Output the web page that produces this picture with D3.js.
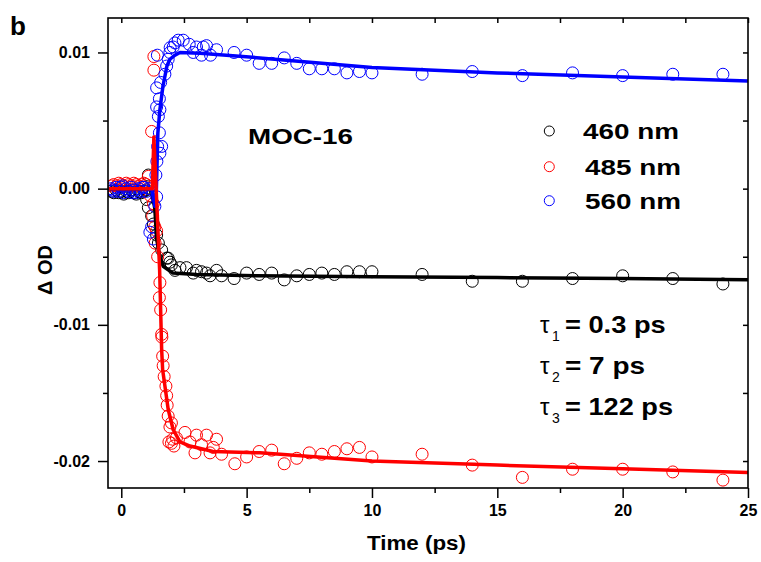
<!DOCTYPE html>
<html>
<head>
<meta charset="utf-8">
<script src="https://cdn.jsdelivr.net/npm/d3@7"></script>
<style>
  body { margin: 0; background: #fff; }
  svg { display: block; font-family: "Liberation Sans", Arial, sans-serif; }
</style>
</head>
<body>
<svg id="chart" width="761" height="562"></svg>
<script>
// Transient absorption kinetics, MOC-16 (panel b)
// points are [time (ps), delta OD]

const pts460 = [
  [-0.4,-0.0002],[-0.3,-0.0003],[-0.2,-0.0001],[-0.1,-0.0003],[0,-0.0002],[0.1,-0.0004],[0.2,-0.0002],
  [0.3,-0.0003],[0.4,-0.0001],[0.5,-0.0003],[0.6,-0.0004],[0.7,-0.0002],[0.8,-0.0003],[0.9,-0.0002],
  [1.0,-0.0001],[1.08,0.0010],[1.01,-0.0008],[1.08,-0.0014],[1.21,-0.0020],[1.28,-0.0026],[1.41,-0.0034],
  [1.48,-0.0040],[1.61,-0.0045],[1.81,-0.0051],[1.94,-0.0054],[1.87,-0.0051],[2.0,-0.0056],[2.14,-0.0060],
  [2.34,-0.0058],[2.6,-0.0058],[2.87,-0.0062],[3.0,-0.0060],[3.2,-0.0061],[3.4,-0.0062],[3.54,-0.0064],
  [3.8,-0.0060],[4.0,-0.0064],[4.5,-0.0066],[5.0,-0.0062],[5.5,-0.0063],[6.0,-0.0062],[6.5,-0.0067],
  [7.0,-0.0064],[7.5,-0.0063],[8.0,-0.0062],[8.5,-0.0063],[9.0,-0.0061],[9.5,-0.0061],[10,-0.0061],
  [12,-0.0063],[14,-0.0068],[16,-0.0068],[18,-0.0066],[20,-0.0064],[22,-0.0066],[24,-0.0070]
];
const pts485 = [
  [-0.4,0.0002],[-0.3,0.0003],[-0.2,0.0002],[-0.1,0.0004],[0,0.0003],[0.1,0.0002],[0.2,0.0004],
  [0.3,0.0003],[0.4,0.0002],[0.5,0.0004],[0.6,0.0003],[0.7,0.0002],[0.8,0.0003],[0.9,0.0004],
  [1.0,0.0003],[1.08,0.0009],[1.21,0.0042],[1.30,0.0087],[1.30,0.0097],[1.15,-0.0005],[1.25,-0.0020],
  [1.28,-0.0011],[1.34,-0.0028],[1.35,-0.0040],[1.41,-0.0031],[1.45,-0.0050],[1.54,-0.0069],[1.52,-0.0080],
  [1.57,-0.0089],[1.61,-0.0107],[1.62,-0.0109],[1.65,-0.0123],[1.67,-0.0130],[1.71,-0.0138],[1.78,-0.0145],
  [1.81,-0.0152],[1.83,-0.0159],[1.87,-0.0167],[1.94,-0.0175],[2.0,-0.0172],[2.05,-0.0184],[1.9,-0.0186],
  [2.0,-0.0187],[2.1,-0.0189],[2.2,-0.0183],[2.54,-0.0179],[2.74,-0.0186],[2.94,-0.0194],[3.0,-0.0181],
  [3.2,-0.0188],[3.4,-0.0181],[3.54,-0.0194],[3.67,-0.0190],[3.8,-0.0184],[4.0,-0.0195],[4.53,-0.0202],
  [5.0,-0.0197],[5.5,-0.0193],[6.0,-0.0192],[6.5,-0.0202],[7.0,-0.0198],[7.5,-0.0194],[8.0,-0.0195],
  [8.5,-0.0193],[9.0,-0.0191],[9.5,-0.0190],[10,-0.0197],[12,-0.0195],[14,-0.0203],[16,-0.0212],
  [18,-0.0206],[20,-0.0206],[22,-0.0208],[24,-0.0214]
];
const pts560 = [
  [-0.4,0.0000],[-0.35,-0.0001],[-0.3,-0.0002],[-0.2,0.0001],[-0.1,-0.0002],[0,0.0001],[0.05,0.0002],
  [0.1,-0.0003],[0.2,0.0000],[0.3,-0.0002],[0.4,0.0001],[0.45,-0.0003],[0.5,-0.0001],[0.6,-0.0003],
  [0.7,0.0000],[0.8,-0.0002],[0.85,0.0001],[0.9,0.0001],[1.0,-0.0002],[1.1,0.0000],
  [1.14,-0.0032],[1.21,-0.0028],[1.28,-0.0037],[1.34,-0.0013],[1.38,0.0010],[1.41,-0.0006],[1.42,0.0020],
  [1.45,0.0031],[1.52,0.0041],[1.54,0.0026],[1.61,0.0031],[1.48,0.0053],[1.54,0.0058],[1.41,0.0060],
  [1.52,0.0066],[1.41,0.0074],[1.57,0.0078],[1.74,0.0084],[1.81,0.0090],[1.87,0.0095],[1.44,0.0098],
  [1.94,0.0100],[1.95,0.01035],[2.07,0.0104],[2.14,0.0107],[2.27,0.0109],[2.47,0.0109],[2.71,0.0106],
  [2.87,0.0100],[3.0,0.0104],[3.2,0.0098],[3.27,0.0104],[3.4,0.0105],[3.56,0.0098],[3.8,0.0102],
  [4.5,0.0100],[5.0,0.0098],[5.5,0.0092],[6.0,0.0092],[6.5,0.0096],[7.0,0.0092],[7.5,0.0088],
  [8.0,0.0088],[8.5,0.0088],[9.0,0.0085],[9.5,0.0086],[10,0.0085],[12,0.0084],[14,0.0086],
  [16,0.0083],[18,0.0085],[20,0.0083],[22,0.0084],[24,0.0084]
];

// fitted curves
const fit460 = [
  [-0.5,0],[1.06,0],[1.22,-0.0002],[1.34,-0.0015],[1.41,-0.0037],[1.54,-0.0050],[1.67,-0.0057],
  [2.06,-0.0062],[3.0,-0.0063],[5.4,-0.0064],[10,-0.00646],[15,-0.00653],[20,-0.0066],[25,-0.00668]
];
const fit485 = [
  [-0.5,0],[1.14,0],[1.24,0],[1.30,0.0038],[1.41,-0.0008],[1.53,-0.0060],[1.61,-0.0118],[1.65,-0.0133],
  [1.87,-0.0162],[2.07,-0.0177],[2.34,-0.0186],[2.74,-0.0189],[3.66,-0.0193],[5.53,-0.0194],
  [10,-0.0200],[15,-0.0203],[20,-0.02056],[25,-0.02085]
];
const fit560 = [
  [-0.5,0],[1.06,0],[1.22,-0.0001],[1.34,-0.0013],[1.40,-0.0001],[1.46,0.0041],[1.54,0.0058],
  [1.66,0.0075],[1.82,0.0090],[1.94,0.0095],[2.14,0.0098],[2.34,0.0100],[3.14,0.00995],[5.53,0.0096],
  [10,0.0089],[15,0.0085],[20,0.0082],[25,0.0079]
];

const xTicks = [0, 5, 10, 15, 20, 25];
const xMinor = [2.5, 7.5, 12.5, 17.5, 22.5];
const yTicks = [-0.02, -0.01, 0, 0.01];
const yMinor = [-0.015, -0.005, 0.005];
const legendLabels = ["460 nm", "485 nm", "560 nm"];
const tauLabels = [["1", "= 0.3 ps"], ["2", "= 7 ps"], ["3", "= 122 ps"]];

const colors = { "460": "#000000", "485": "#ff0000", "560": "#0000ff" };

const mLeft = 108, mRight = 748, mTop = 18, mBottom = 488;
const x = d3.scaleLinear().domain([-0.53, 25]).range([mLeft, mRight]);
const y = d3.scaleLinear().domain([-0.02198, 0.01253]).range([mBottom, mTop]);

const svg = d3.select("#chart");

svg.append("defs").append("clipPath").attr("id", "clip")
  .append("rect").attr("x", mLeft).attr("y", mTop).attr("width", mRight - mLeft).attr("height", mBottom - mTop);

const plot = svg.append("g").attr("clip-path", "url(#clip)");

// data circles
const series = [["460", pts460], ["485", pts485], ["560", pts560]];
series.forEach(([k, pts]) => {
  plot.append("g")
      .selectAll("circle")
      .data(pts)
      .join("circle")
      .attr("cx", d => x(d[0]))
      .attr("cy", d => y(d[1]))
      .attr("r", 6)
      .attr("fill", "none")
      .attr("stroke", colors[k])
      .attr("stroke-width", 1);
});

// fit lines
const line = d3.line().x(d => x(d[0])).y(d => y(d[1]));
[["460", fit460], ["560", fit560], ["485", fit485]].forEach(([k, f]) => {
  plot.append("path")
      .datum(f)
      .attr("fill", "none")
      .attr("stroke", colors[k])
      .attr("stroke-width", 3.5)
      .attr("stroke-linejoin", "round")
      .attr("d", line);
});

// axes
const fmt = d => d.toFixed(2);
const tickFont = g => g.selectAll("text")
    .attr("font-size", 16).attr("font-weight", "bold").attr("fill", "#000");

svg.append("g").attr("transform", `translate(0,${mBottom})`)
    .call(d3.axisBottom(x).tickValues(xTicks).tickFormat(d3.format("d")).tickSize(10).tickPadding(7).tickSizeOuter(0))
    .call(tickFont);
svg.append("g").attr("transform", `translate(0,${mBottom})`)
    .call(d3.axisBottom(x).tickValues(xMinor).tickFormat("").tickSize(5).tickSizeOuter(0));
svg.append("g").attr("transform", `translate(${mLeft},0)`)
    .call(d3.axisLeft(y).tickValues(yTicks).tickFormat(fmt).tickSize(10).tickPadding(8).tickSizeOuter(0))
    .call(tickFont);
svg.append("g").attr("transform", `translate(${mLeft},0)`)
    .call(d3.axisLeft(y).tickValues(yMinor).tickFormat("").tickSize(5).tickSizeOuter(0));
// mirror ticks top / right, pointing in
svg.append("g").attr("transform", `translate(0,${mTop})`)
    .call(d3.axisTop(x).tickValues(xTicks.concat(xMinor)).tickFormat("").tickSize(-5).tickSizeOuter(0));
svg.append("g").attr("transform", `translate(${mRight},0)`)
    .call(d3.axisRight(y).tickValues(yTicks.concat(yMinor)).tickFormat("").tickSize(-5).tickSizeOuter(0));
svg.selectAll(".domain").remove();
svg.selectAll(".tick line").attr("stroke", "#000").attr("stroke-width", 1.5);

svg.append("rect")
    .attr("x", mLeft).attr("y", mTop)
    .attr("width", mRight - mLeft).attr("height", mBottom - mTop)
    .attr("fill", "none").attr("stroke", "#000").attr("stroke-width", 1.6);

// titles
svg.append("text").attr("x", 10).attr("y", 35)
    .attr("font-size", 26).attr("font-weight", "bold").text("b");
svg.append("text").attr("x", 367).attr("y", 550)
    .attr("font-size", 20).attr("font-weight", "bold")
    .attr("textLength", 99).attr("lengthAdjust", "spacingAndGlyphs")
    .text("Time (ps)");
svg.append("text")
    .attr("transform", "translate(52,270) rotate(-90)")
    .attr("text-anchor", "middle")
    .attr("font-size", 20).attr("font-weight", "bold")
    .text("Δ OD");

svg.append("text").attr("x", 248).attr("y", 144)
    .attr("font-size", 22).attr("font-weight", "bold")
    .attr("textLength", 105).attr("lengthAdjust", "spacingAndGlyphs")
    .text("MOC-16");

// legend
const legY = [131, 166.7, 200.7];
const legKeys = ["460", "485", "560"];
const leg = svg.append("g").selectAll("g").data(legendLabels).join("g");
leg.append("circle")
    .attr("cx", 549.3).attr("cy", (d, i) => legY[i]).attr("r", 5)
    .attr("fill", "none").attr("stroke", (d, i) => colors[legKeys[i]]).attr("stroke-width", 1);
leg.append("text")
    .attr("x", (d, i) => i === 0 ? 583 : 585).attr("y", (d, i) => legY[i] + 8.3)
    .attr("font-size", 22).attr("font-weight", "bold")
    .attr("textLength", 96).attr("lengthAdjust", "spacingAndGlyphs")
    .text(d => d);

// time constants
const tauY = [333.3, 374, 415];
const tauW = [100.7, 80, 108];
const tau = svg.append("g").selectAll("g").data(tauLabels).join("g");
tau.append("text")
    .attr("x", 540).attr("y", (d, i) => tauY[i])
    .attr("font-size", 24).text("τ");
tau.append("text")
    .attr("x", 552).attr("y", (d, i) => tauY[i] + 8)
    .attr("font-size", 14).text(d => d[0]);
tau.append("text")
    .attr("x", 565).attr("y", (d, i) => tauY[i])
    .attr("font-size", 24).attr("font-weight", "bold")
    .attr("textLength", (d, i) => tauW[i]).attr("lengthAdjust", "spacingAndGlyphs")
    .text(d => d[1]);
</script>
</body>
</html>
